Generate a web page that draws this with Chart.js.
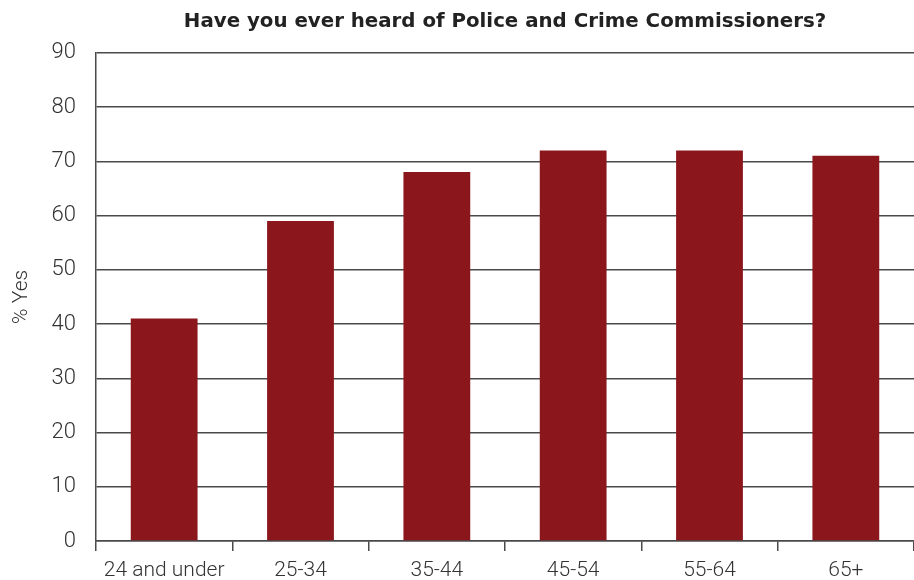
<!DOCTYPE html>
<html>
<head>
<meta charset="utf-8">
<script src="https://cdn.jsdelivr.net/npm/chart.js@4"></script>
<style>
  html, body { margin: 0; padding: 0; background: #fff; }
  #wrap { width: 914px; height: 580px; }
</style>
</head>
<body>
<div id="wrap"><canvas id="bar-chart" width="914" height="580"></canvas></div>
<script>
const age_groups = ['24 and under', '25-34', '35-44', '45-54', '55-64', '65+'];
const pct_yes = [41, 59, 68, 72, 72, 71];
const y_ticks = [0, 10, 20, 30, 40, 50, 60, 70, 80, 90];

const barColor = '#8b171c';
const lineColor = '#4a4a4a';
const textColor = '#333333';

const barCtx = document.getElementById('bar-chart').getContext('2d');

// title sits over the plot area, not the whole canvas
const centerTitle = {
    id: 'centerTitle',
    afterLayout(chart) {
        const tb = chart.titleBlock;
        if (tb) {
            tb.left = chart.chartArea.left;
            tb.right = chart.chartArea.right;
            tb.width = tb.right - tb.left;
        }
    }
};

const barChart = new Chart(barCtx, {
    type: 'bar',
    data: {
        labels: age_groups,
        datasets: [{
            label: '% Yes',
            data: pct_yes,
            backgroundColor: barColor,
            borderWidth: 0,
            categoryPercentage: 0.49,
            barPercentage: 1.0
        }]
    },
    options: {
        responsive: false,
        animation: false,
        layout: { padding: { left: 0, right: 0, top: 0, bottom: 0 } },
        plugins: {
            legend: { display: false },
            tooltip: { enabled: false },
            title: {
                display: true,
                text: 'Have you ever heard of Police and Crime Commissioners?',
                color: '#222',
                font: { family: 'DejaVu Sans', size: 19.8, weight: 'bold' },
                padding: { top: 10, bottom: 19 }
            }
        },
        scales: {
            x: {
                grid: {
                    display: true,
                    offset: true,
                    drawOnChartArea: false,
                    drawTicks: true,
                    tickLength: 10,
                    color: lineColor,
                    lineWidth: 1.5
                },
                border: { display: true, color: lineColor, width: 1.5 },
                ticks: {
                    color: textColor,
                    padding: 7,
                    font: { family: 'Roboto', size: 21, weight: 300 }
                },
                afterFit: (scale) => { scale.height = 39; }
            },
            y: {
                min: 0,
                max: 90,
                afterBuildTicks: (scale) => {
                    scale.ticks = y_ticks.map(v => ({ value: v }));
                },
                grid: {
                    color: lineColor,
                    lineWidth: 1.5,
                    drawTicks: false
                },
                border: { display: true, color: lineColor, width: 1.5 },
                ticks: {
                    color: textColor,
                    padding: 20,
                    font: { family: 'Roboto', size: 22, weight: 300 }
                },
                title: {
                    display: true,
                    text: '% Yes',
                    color: textColor,
                    padding: { top: 9, bottom: 0 },
                    font: { family: 'Roboto', size: 21, weight: 300 }
                },
                afterFit: (scale) => { scale.width = 96; }
            }
        }
    },
    plugins: [centerTitle]
});
</script>
</body>
</html>
